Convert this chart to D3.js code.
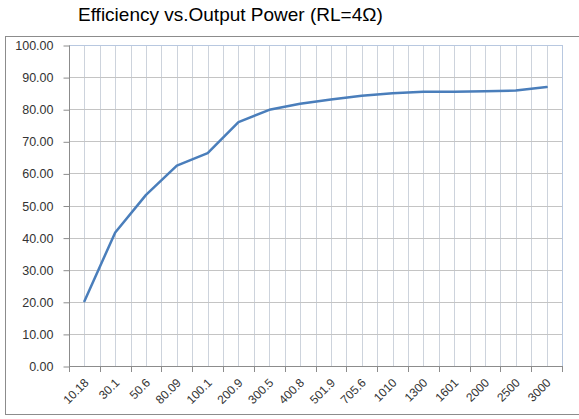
<!DOCTYPE html>
<html><head><meta charset="utf-8">
<script src="https://cdn.jsdelivr.net/npm/d3@7"></script>
<style>body{margin:0;background:#fff}svg{display:block}</style>
</head><body>
<svg id="c" width="579" height="419"></svg>
<script>
const categories = ["10.18","30.1","50.6","80.09","100.1","200.9","300.5","400.8","501.9","705.6","1010","1300","1601","2000","2500","3000"];
const efficiency = [20.2,41.6,53.3,62.4,66.3,76.0,79.8,81.7,83.0,84.2,85.0,85.4,85.4,85.6,85.8,86.9];
const yTicks = [0,10,20,30,40,50,60,70,80,90,100];
const title = "Efficiency vs.Output Power (RL=4\u03A9)";

const svg = d3.select("#c");
const L = 69, R = 562, T = 45, B = 366;
const FONT = "Liberation Sans, Arial, sans-serif";

svg.append("rect").attr("x",5.5).attr("y",36.5).attr("width",590).attr("height",378)
  .attr("fill","#fff").attr("stroke","#8c8c8c").attr("stroke-width",1);

svg.append("text").attr("x",78).attr("y",21).attr("font-family",FONT)
  .attr("font-size",19).attr("fill","#000").text(title);

const x = d3.scaleBand().domain(categories).range([L,R]);
const y = d3.scaleLinear().domain([0,100]).range([B,T]);

// vertical gridlines at band edges and centers
const vg = [];
categories.forEach(c=>{vg.push(x(c)); vg.push(x(c)+x.bandwidth()/2);});
svg.append("g").selectAll("line").data(vg.slice(1)).join("line")
  .attr("x1",d=>Math.round(d)+0.5).attr("x2",d=>Math.round(d)+0.5).attr("y1",T).attr("y2",B)
  .attr("stroke","#cdd3dc").attr("stroke-width",1);
// horizontal gridlines
svg.append("g").selectAll("line").data(yTicks.slice(1)).join("line")
  .attr("x1",L).attr("x2",R).attr("y1",d=>Math.round(y(d))+0.5).attr("y2",d=>Math.round(y(d))+0.5)
  .attr("stroke",d=>d===100?"#b8c8e0":"#c4c4c4").attr("stroke-width",1);
// right border
svg.append("line").attr("x1",R+0.5).attr("x2",R+0.5).attr("y1",T).attr("y2",B).attr("stroke","#b8c8e0");

// y axis
const yAxis = d3.axisLeft(y).tickValues(yTicks).tickFormat(d3.format(".2f")).tickSize(6).tickPadding(10);
const gy = svg.append("g").attr("transform",`translate(${L+0.5},0.5)`).call(yAxis);
gy.select(".domain").attr("stroke","#8c8c8c").attr("d",`M0,${T}V${B}`);
gy.selectAll(".tick line").attr("stroke","#8c8c8c");
gy.selectAll("text").attr("font-family",FONT).attr("font-size",12.5).attr("fill","#333");

// x axis
const xAxis = d3.axisBottom(x).tickSize(0);
const gx = svg.append("g").attr("transform",`translate(0,${B+0.5})`).call(xAxis);
gx.select(".domain").attr("stroke","#8c8c8c").attr("d",`M${L},0H${R}`);
gx.selectAll(".tick text").attr("font-family",FONT).attr("font-size",12).attr("fill","#333")
  .attr("text-anchor","end").attr("dy",null).attr("y",0)
  .attr("transform","translate(5,17) rotate(-45)");
// tick marks at band edges
const edges = categories.map(c=>x(c)).concat([R]);
svg.append("g").selectAll("line").data(edges).join("line")
  .attr("x1",d=>Math.round(d)+0.5).attr("x2",d=>Math.round(d)+0.5).attr("y1",B).attr("y2",B+6)
  .attr("stroke","#8c8c8c");

// line
const line = d3.line().x((d,i)=>x(categories[i])+x.bandwidth()/2).y(d=>y(d));
svg.append("path").datum(efficiency).attr("d",line).attr("fill","none")
  .attr("stroke","#4a7ebb").attr("stroke-width",2.5).attr("stroke-linejoin","round").attr("stroke-linecap","round");
</script>
</body></html>
